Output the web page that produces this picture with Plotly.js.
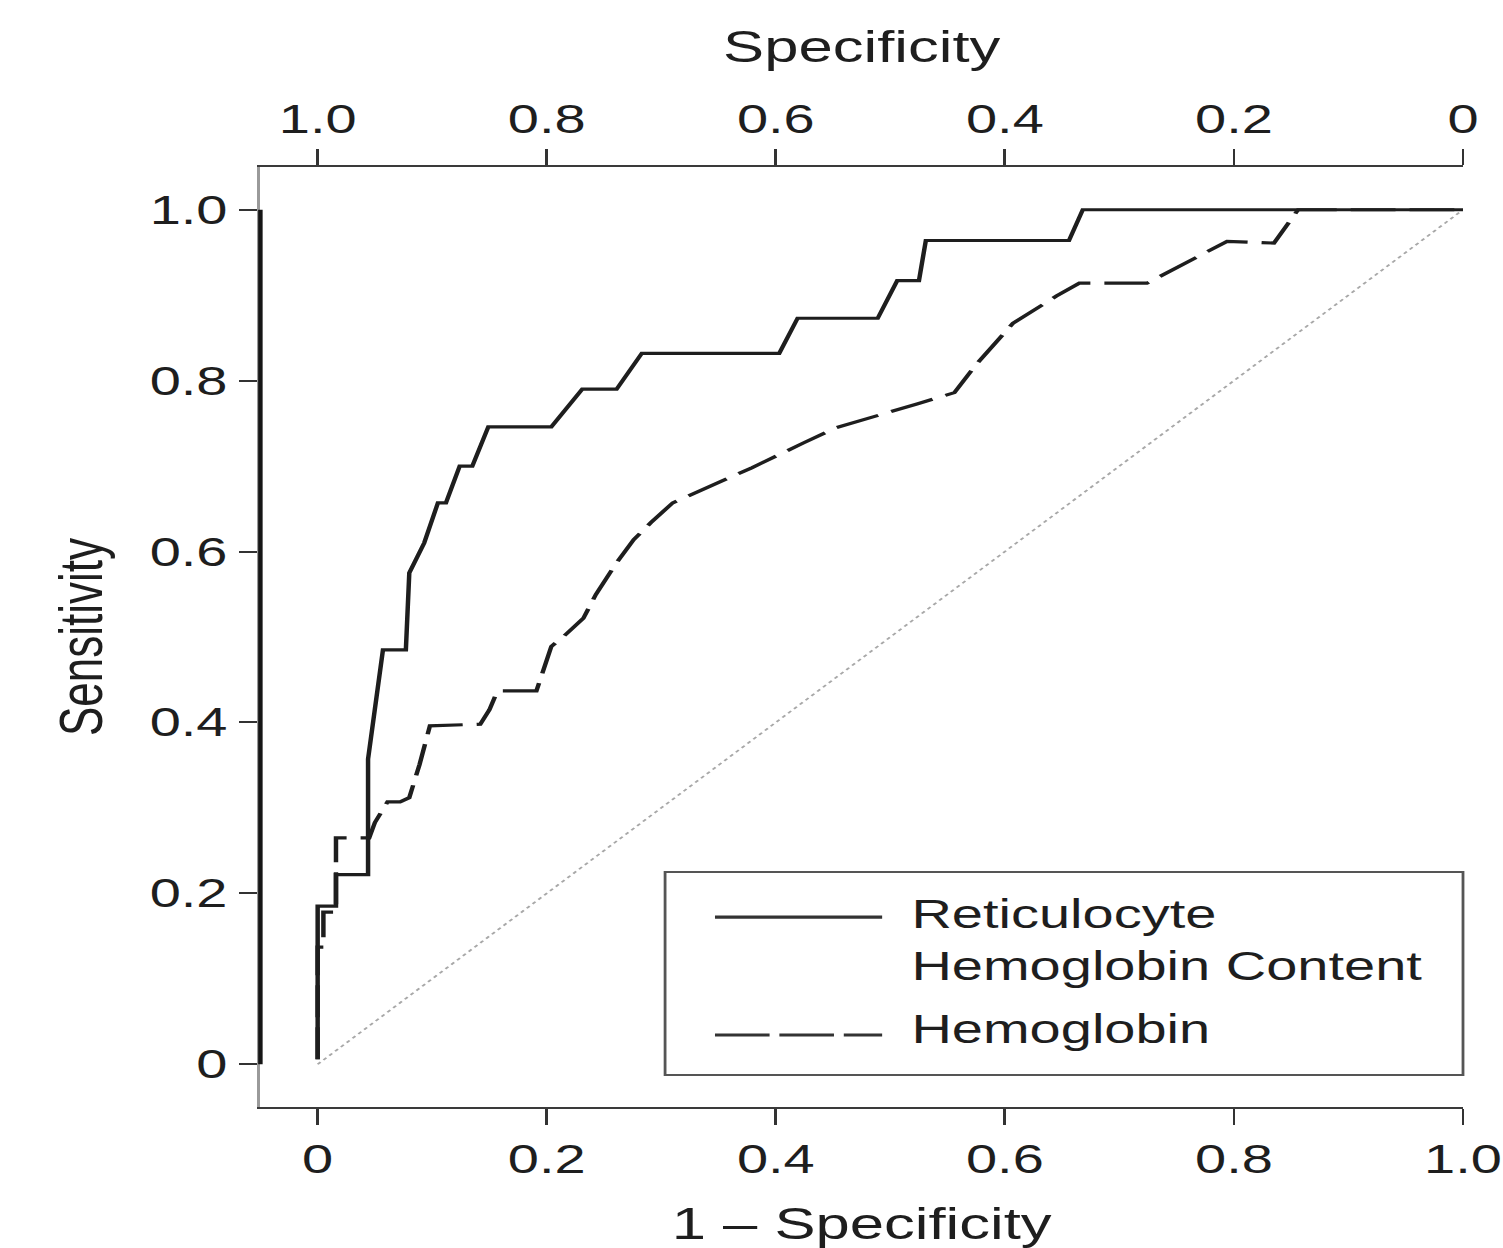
<!DOCTYPE html>
<html>
<head>
<meta charset="utf-8">
<script src="https://cdn.plot.ly/plotly-3.0.1.min.js"></script>
<style>
html, body { margin: 0; padding: 0; overflow: hidden; background: #fff; }
#chart { width: 1074px; height: 1248px; transform: scaleX(1.4); transform-origin: 0 0; }
</style>
</head>
<body>
<div id="chart"></div>
<script>
// ---- data ----
const seriesNames = ["Reticulocyte<br>Hemoglobin Content", "Hemoglobin"];

// Reticulocyte hemoglobin content: 1 - specificity (x) and sensitivity (y)
const retFpr = [0, 0, 0.016, 0.016, 0.044, 0.044, 0.057, 0.077, 0.080, 0.093,
                0.105, 0.112, 0.124, 0.135, 0.149, 0.204, 0.231, 0.261, 0.283, 0.403,
                0.419, 0.489, 0.506, 0.525, 0.531, 0.656, 0.668, 1.0];
const retSens = [0.006, 0.185, 0.185, 0.222, 0.222, 0.357, 0.485, 0.485, 0.575, 0.610,
                 0.657, 0.657, 0.700, 0.700, 0.746, 0.746, 0.790, 0.790, 0.832, 0.832,
                 0.873, 0.873, 0.917, 0.917, 0.964, 0.964, 1.0, 1.0];

// Hemoglobin
const hbFpr = [0, 0, 0.005, 0.005, 0.016, 0.016, 0.045, 0.050, 0.061, 0.072,
               0.080, 0.089, 0.098, 0.142, 0.150, 0.157, 0.191, 0.204, 0.215, 0.232,
               0.243, 0.260, 0.276, 0.291, 0.310, 0.330, 0.379, 0.424, 0.453, 0.524,
               0.556, 0.575, 0.607, 0.645, 0.665, 0.724, 0.794, 0.835, 0.856, 1.0];
const hbSens = [0.006, 0.137, 0.137, 0.178, 0.178, 0.265, 0.265, 0.283, 0.307, 0.307,
                0.312, 0.351, 0.396, 0.398, 0.415, 0.437, 0.437, 0.489, 0.501, 0.522,
                0.550, 0.585, 0.614, 0.634, 0.657, 0.669, 0.698, 0.727, 0.745, 0.773,
                0.786, 0.819, 0.867, 0.899, 0.914, 0.914, 0.963, 0.961, 1.0, 1.0];

// chance diagonal
const refFpr = [0, 1];
const refSens = [0, 1];

// ticks
const fprTicks = [0, 0.2, 0.4, 0.6, 0.8, 1.0];
const fprTickText = ["0", "0.2", "0.4", "0.6", "0.8", "1.0"];
const specTicks = [1.0, 0.8, 0.6, 0.4, 0.2, 0];
const specTickText = ["1.0", "0.8", "0.6", "0.4", "0.2", "0"];
const sensTicks = [0, 0.2, 0.4, 0.6, 0.8, 1.0];
const sensTickText = ["0", "0.2", "0.4", "0.6", "0.8", "1.0"];

// ---- drawing ----
const FONT = "Liberation Sans, Arial, Helvetica, sans-serif";
const INK = "#1e1e1e";

const traces = [
  { x: refFpr, y: refSens, mode: "lines", xaxis: "x", yaxis: "y",
    line: { color: "#a8a8a8", width: 1.6, dash: "dot" }, showlegend: false, hoverinfo: "skip" },
  { x: hbFpr, y: hbSens, mode: "lines", name: seriesNames[1], xaxis: "x", yaxis: "y",
    line: { color: INK, width: 3.2, dash: "32px,10px" }, showlegend: false },
  { x: retFpr, y: retSens, mode: "lines", name: seriesNames[0], xaxis: "x", yaxis: "y",
    line: { color: INK, width: 3.2 }, showlegend: false },
  { x: specTicks, y: specTicks.map(() => null), mode: "lines", xaxis: "x2", yaxis: "y",
    showlegend: false, hoverinfo: "skip", opacity: 0 }
];

// legend geometry (paper coordinates)
const legX0 = 0.3365, legX1 = 1.0, legY0 = 0.034, legY1 = 0.25;
const sampleX0 = 0.378, sampleX1 = 0.517;
const rowY = [0.2021, 0.0766];
const textY = [0.178, 0.083];
const textX = 0.539;

const shapes = [
  { type: "line", xref: "paper", yref: "y", x0: 0, x1: 0, y0: 0, y1: 1,
    line: { color: "#151515", width: 3.2 } },
  { type: "rect", xref: "paper", yref: "paper", x0: legX0, x1: legX1, y0: legY0, y1: legY1,
    line: { color: "#555", width: 2 }, fillcolor: "rgba(255,255,255,0)" },
  { type: "line", xref: "paper", yref: "paper", x0: sampleX0, x1: sampleX1, y0: rowY[0], y1: rowY[0],
    line: { color: "#333", width: 3.2 } },
  { type: "line", xref: "paper", yref: "paper", x0: sampleX0, x1: sampleX1, y0: rowY[1], y1: rowY[1],
    line: { color: "#333", width: 3.2, dash: "39px,7px" } }
];

const annotations = seriesNames.map((name, i) => ({
  xref: "paper", yref: "paper", x: textX, y: textY[i], xanchor: "left", yanchor: "middle",
  text: name, showarrow: false, align: "left",
  font: { family: FONT, size: 40, color: INK }
}));

const axisCommon = {
  showgrid: false, zeroline: false, showline: true, ticks: "outside",
  tickwidth: 2, tickcolor: "#333", automargin: false,
  tickfont: { family: FONT, size: 40, color: INK }
};

const layout = {
  width: 1074, height: 1248,
  margin: { l: 186, r: 29, t: 167, b: 141, pad: 0 },
  paper_bgcolor: "#fff", plot_bgcolor: "#fff",
  font: { family: FONT, color: INK },
  showlegend: false,
  xaxis: Object.assign({}, axisCommon, {
    range: [-0.05, 1], tickvals: fprTicks, ticktext: fprTickText,
    ticklen: 16, linecolor: "#3a3a3a", linewidth: 2,
    title: { text: "1 – Specificity", font: { family: FONT, size: 44, color: INK }, standoff: 33 }
  }),
  xaxis2: Object.assign({}, axisCommon, {
    overlaying: "x", side: "top", anchor: "y",
    range: [1.05, 0], tickvals: specTicks, ticktext: specTickText,
    ticklen: 16, linecolor: "#3a3a3a", linewidth: 2,
    title: { text: "Specificity", font: { family: FONT, size: 44, color: INK }, standoff: 21 }
  }),
  yaxis: Object.assign({}, axisCommon, {
    range: [-0.05, 1.05], tickvals: sensTicks, ticktext: sensTickText,
    ticklen: 13, linecolor: "#9a9a9a", linewidth: 2.5,
    title: { text: "Sensitivity", font: { family: FONT, size: 44, color: INK }, standoff: 20 }
  }),
  shapes: shapes,
  annotations: annotations
};

Plotly.newPlot("chart", traces, layout, { displayModeBar: false, staticPlot: true });
</script>
</body>
</html>
